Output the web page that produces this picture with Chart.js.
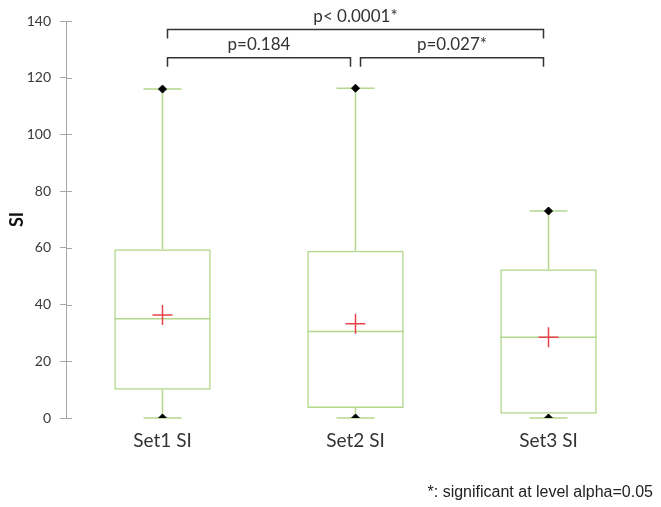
<!DOCTYPE html>
<html>
<head>
<meta charset="utf-8">
<script src="https://cdn.jsdelivr.net/npm/chart.js@4.4.1/dist/chart.umd.min.js"></script>
<style>
  html, body { margin: 0; padding: 0; background: #fff; }
  #wrap { width: 661px; height: 507px; position: relative; }
</style>
</head>
<body>
<div id="wrap"><canvas id="boxChart"></canvas></div>
<script>
// box plot values
const labels = ['Set1 SI', 'Set2 SI', 'Set3 SI'];
const minVals = [0, 0, 0];
const q1Vals = [10, 3.5, 1.5];
const medianVals = [35, 30.5, 28.5];
const q3Vals = [59.5, 59, 52.5];
const maxVals = [116, 116.3, 73];
const meanVals = [36.3, 33.2, 28.5];
const yTicks = [0, 20, 40, 60, 80, 100, 120, 140];

// pairwise comparisons (category indexes) and their p-values
const pairFrom = [0, 1, 0];
const pairTo = [1, 2, 2];
const pairText = ['p=0.184', 'p=0.027*', 'p< 0.0001*'];
const footnote = '*: significant at level alpha=0.05';

const GREEN = '#b3d88c';
const RED = '#e8414b';
const DARK = '#333333';

// whiskers, caps and medians drawn through the scales
const boxParts = {
    id: 'boxParts',
    beforeDatasetsDraw(chart) {
        const { ctx, scales: { x, y } } = chart;
        ctx.save();
        ctx.strokeStyle = GREEN;
        ctx.lineWidth = 1.5;
        const half = (x.getPixelForValue(1) - x.getPixelForValue(0)) * 0.25;
        labels.forEach((l, i) => {
            const cx = x.getPixelForValue(i);
            ctx.beginPath();
            // upper whisker + cap
            ctx.moveTo(cx, y.getPixelForValue(q3Vals[i]));
            ctx.lineTo(cx, y.getPixelForValue(maxVals[i]));
            ctx.moveTo(cx - 19, y.getPixelForValue(maxVals[i]));
            ctx.lineTo(cx + 19, y.getPixelForValue(maxVals[i]));
            // lower whisker + cap
            ctx.moveTo(cx, y.getPixelForValue(q1Vals[i]));
            ctx.lineTo(cx, y.getPixelForValue(minVals[i]));
            ctx.moveTo(cx - 19, y.getPixelForValue(minVals[i]));
            ctx.lineTo(cx + 19, y.getPixelForValue(minVals[i]));
            // median
            ctx.moveTo(cx - half, y.getPixelForValue(medianVals[i]));
            ctx.lineTo(cx + half, y.getPixelForValue(medianVals[i]));
            ctx.stroke();
        });
        ctx.restore();
    }
};

// y tick marks that cross the axis line, brackets and footnote
const extras = {
    id: 'extras',
    afterDraw(chart) {
        const { ctx, scales: { x, y } } = chart;
        ctx.save();
        // inner half of the tick marks
        ctx.strokeStyle = '#a6a6a6';
        ctx.lineWidth = 1;
        yTicks.forEach(t => {
            const py = Math.round(y.getPixelForValue(t)) + 0.5;
            ctx.beginPath();
            ctx.moveTo(x.left, py);
            ctx.lineTo(x.left + 6, py);
            ctx.stroke();
        });

        // significance brackets
        ctx.strokeStyle = DARK;
        ctx.lineWidth = 1.5;
        ctx.fillStyle = '#333';
        ctx.font = '17px Lato';
        ctx.textAlign = 'center';
        ctx.textBaseline = 'alphabetic';
        pairFrom.forEach((a, k) => {
            const b = pairTo[k];
            const wide = b - a > 1;
            const top = y.getPixelForValue(wide ? 137 : 127);
            const leg = 9;
            const x0 = x.getPixelForValue(a) + 5;
            const x1 = x.getPixelForValue(b) - 5;
            ctx.beginPath();
            ctx.moveTo(x0, top + leg);
            ctx.lineTo(x0, top);
            ctx.lineTo(x1, top);
            ctx.lineTo(x1, top + leg);
            ctx.stroke();
            ctx.fillText(pairText[k], (x0 + x1) / 2, top - 8);
        });

        // footnote
        ctx.fillStyle = '#222';
        ctx.font = '16px "Liberation Sans", Arial, sans-serif';
        ctx.textAlign = 'right';
        ctx.fillText(footnote, 653, 497);
        ctx.restore();
    }
};

const ctx = document.getElementById('boxChart').getContext('2d');
const boxChart = new Chart(ctx, {
    type: 'bar',
    data: {
        labels: labels,
        datasets: [
            {
                type: 'line',
                label: 'Mean',
                data: meanVals,
                showLine: false,
                pointStyle: 'cross',
                pointRadius: 10,
                pointBorderWidth: 1.5,
                pointBorderColor: RED,
                order: 0
            },
            {
                type: 'line',
                label: 'Max',
                data: maxVals,
                showLine: false,
                pointStyle: 'rectRot',
                pointRadius: 4,
                pointBackgroundColor: '#000',
                pointBorderColor: '#000',
                order: 0
            },
            {
                type: 'line',
                label: 'Min',
                data: minVals,
                showLine: false,
                pointStyle: 'rectRot',
                pointRadius: 4,
                pointBackgroundColor: '#000',
                pointBorderColor: '#000',
                order: 0
            },
            {
                label: 'Box',
                data: q1Vals.map((v, i) => [v, q3Vals[i]]),
                backgroundColor: 'rgba(0,0,0,0)',
                borderColor: GREEN,
                borderWidth: 1.5,
                borderSkipped: false,
                categoryPercentage: 1,
                barPercentage: 0.5,
                order: 1
            }
        ]
    },
    options: {
        responsive: true,
        maintainAspectRatio: false,
        animation: false,
        layout: { padding: { top: 21, right: 16, left: 0, bottom: 0 } },
        plugins: {
            legend: { display: false },
            tooltip: { enabled: false }
        },
        scales: {
            x: {
                grid: { display: false },
                border: { display: false },
                ticks: { color: '#333', font: { family: 'Lato', size: 19 }, padding: 3 },
                afterFit(scale) { scale.height = 89; }
            },
            y: {
                min: 0,
                max: 140,
                afterBuildTicks(scale) { scale.ticks = yTicks.map(v => ({ value: v })); },
                grid: { drawOnChartArea: false, tickLength: 6, color: '#a6a6a6' },
                border: { color: '#a6a6a6', width: 1 },
                ticks: { color: '#3a3a3a', font: { family: 'Lato', size: 14 }, padding: 9 },
                title: {
                    display: true,
                    text: 'SI',
                    color: '#111',
                    font: { family: 'Lato', size: 18, weight: 'bold' },
                    padding: { top: 6, bottom: 0 }
                },
                afterFit(scale) { scale.width = 66; }
            }
        }
    },
    plugins: [boxParts, extras]
});
</script>
</body>
</html>
